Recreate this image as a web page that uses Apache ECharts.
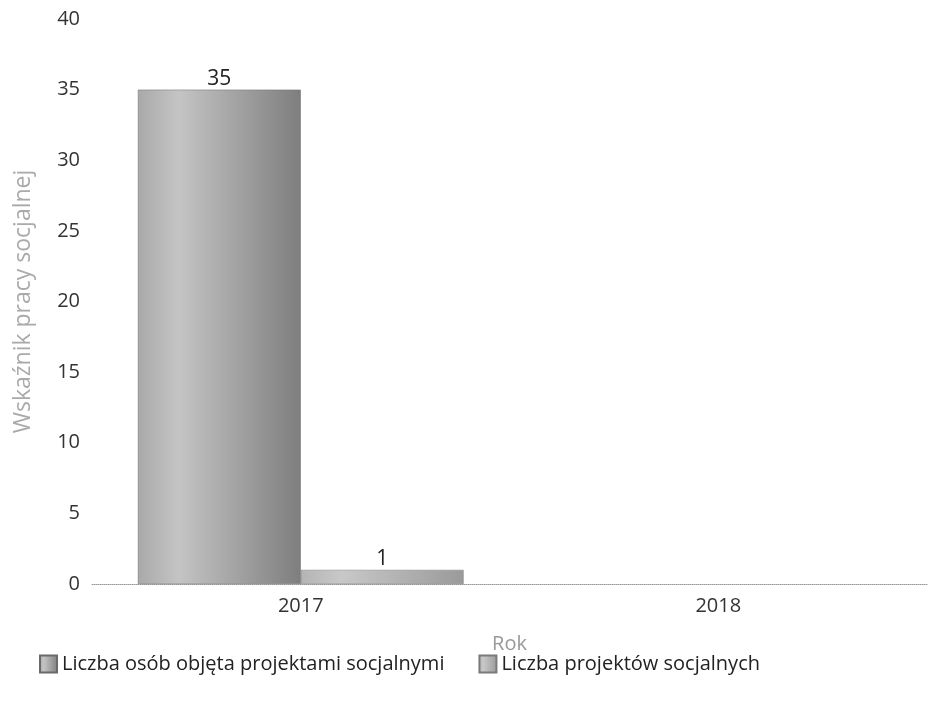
<!DOCTYPE html>
<html><head><meta charset="utf-8">
<script src="https://cdn.jsdelivr.net/npm/echarts@6/dist/echarts.min.js"></script>
<style>html,body{margin:0;padding:0;background:#fff}#c{width:934px;height:707px}</style>
</head><body><div id="c"></div>
<script>
const categories = ['2017', '2018'];
const seriesNames = ['Liczba osób objęta projektami socjalnymi', 'Liczba projektów socjalnych'];
const osobyValues = [35, null];
const projektyValues = [1, null];
const yTicks = [0, 5, 10, 15, 20, 25, 30, 35, 40];

const font = 'Open Sans';
function grad(a, b, c) {
  return new echarts.graphic.LinearGradient(0, 0, 1, 0, [
    {offset: 0, color: a}, {offset: 0.25, color: b}, {offset: 1, color: c}
  ]);
}
const chart = echarts.init(document.getElementById('c'));
chart.setOption({
  backgroundColor: '#fff',
  animation: false,
  grid: {left: 92, right: 7, top: 19, bottom: 123, outerBoundsMode: 'none'},
  legend: {
    left: 34, top: 649, itemWidth: 17, itemHeight: 17, itemGap: 34, icon: 'rect',
    textStyle: {fontFamily: font, fontSize: 20, color: '#222'},
    data: seriesNames
  },
  xAxis: {
    type: 'category', data: categories,
    name: 'Rok', nameLocation: 'middle', nameGap: 50,
    nameTextStyle: {fontFamily: font, fontSize: 20, color: '#999'},
    axisLine: {lineStyle: {color: '#999', type: 'dotted', width: 1}},
    axisTick: {show: false},
    axisLabel: {fontFamily: font, fontSize: 20, color: '#333', margin: 12}
  },
  yAxis: {
    type: 'value', min: yTicks[0], max: yTicks[yTicks.length - 1], interval: 5,
    name: 'Wskaźnik pracy socjalnej', nameLocation: 'middle', nameGap: 57,
    nameTextStyle: {fontFamily: font, fontSize: 23, color: '#aaa'},
    axisLine: {show: false}, axisTick: {show: false},
    splitLine: {show: false},
    axisLabel: {fontFamily: font, fontSize: 20, color: '#333', margin: 12}
  },
  series: [
    {
      name: seriesNames[0], type: 'bar', data: osobyValues,
      barCategoryGap: '22%', barGap: '0%',
      itemStyle: {color: grad('#a9a9a9', '#c4c4c4', '#7e7e7e'), borderColor: '#6a6a6a', borderWidth: 0.5},
      label: {show: true, position: 'top', distance: 0, fontFamily: font, fontSize: 21, color: '#222'}
    },
    {
      name: seriesNames[1], type: 'bar', data: projektyValues,
      itemStyle: {color: grad('#b4b4b4', '#c8c8c8', '#9a9a9a'), borderColor: '#7a7a7a', borderWidth: 0.5},
      label: {show: true, position: 'top', distance: 0, fontFamily: font, fontSize: 21, color: '#222'}
    }
  ]
});
</script></body></html>
